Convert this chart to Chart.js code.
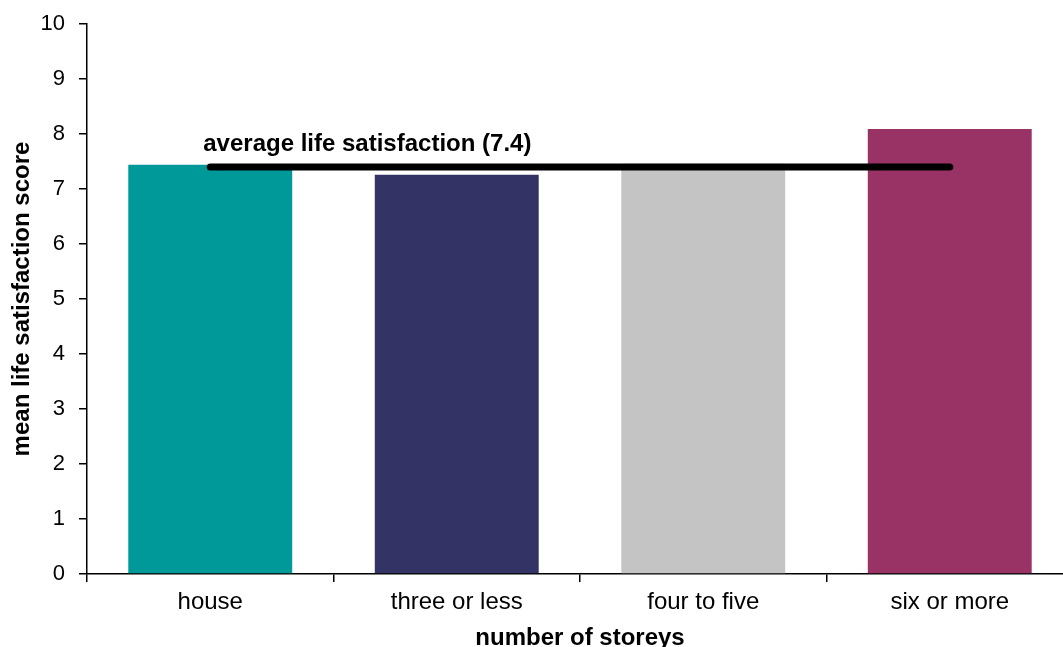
<!DOCTYPE html>
<html>
<head>
<meta charset="utf-8">
<script src="https://cdn.jsdelivr.net/npm/chart.js@4/dist/chart.umd.min.js"></script>
<style>
  html, body { margin: 0; padding: 0; background: #fff; overflow: hidden; }
  #wrap { width: 1063px; height: 647px; overflow: hidden; position: relative; }
  #box { position: absolute; left: 0; top: 0; width: 1080px; height: 660px; }
</style>
</head>
<body>
<div id="wrap"><div id="box"><canvas id="c" width="1080" height="660"></canvas></div></div>
<script>
// Mean life satisfaction by number of storeys in the building
const categories = ['house', 'three or less', 'four to five', 'six or more'];
const meanScores = [7.44, 7.26, 7.46, 8.09];
const barColors = ['#009999', '#333366', '#C4C4C4', '#993366'];
const averageScore = 7.4;
const averageLine = categories.map(() => averageScore);
const yTicks = [0, 1, 2, 3, 4, 5, 6, 7, 8, 9, 10];

const FONT = '"Liberation Sans", Arial, sans-serif';

// Caption for the average line, placed just above its left end
const avgLabel = {
  id: 'avgLabel',
  afterDatasetsDraw(chart) {
    const { ctx, scales: { x, y } } = chart;
    ctx.save();
    ctx.font = 'bold 24px ' + FONT;
    ctx.fillStyle = '#000';
    ctx.textAlign = 'left';
    ctx.textBaseline = 'middle';
    ctx.fillText('average life satisfaction (' + averageScore.toFixed(1) + ')',
      x.getPixelForValue(0) - 7, y.getPixelForValue(averageScore) - 23);
    ctx.restore();
  }
};

new Chart(document.getElementById('c'), {
  data: {
    labels: categories,
    datasets: [
      {
        type: 'line',
        data: averageLine,
        borderColor: '#000',
        borderWidth: 7,
        borderCapStyle: 'round',
        pointRadius: 0,
        order: 0
      },
      {
        type: 'bar',
        data: meanScores,
        backgroundColor: barColors,
        borderWidth: 0,
        barPercentage: 0.665,
        categoryPercentage: 1,
        order: 1
      }
    ]
  },
  options: {
    responsive: false,
    animation: false,
    layout: { padding: { left: 0, top: 24, right: 7, bottom: 0 } },
    plugins: { legend: { display: false }, tooltip: { enabled: false } },
    scales: {
      x: {
        offset: true,
        grid: {
          offset: true,
          drawOnChartArea: false,
          drawTicks: true,
          tickLength: 8,
          color: '#000',
          lineWidth: 1.5
        },
        border: { color: '#000', width: 1.5 },
        ticks: { color: '#000', font: { family: FONT, size: 24 }, padding: 6, maxRotation: 0 },
        title: {
          display: true,
          text: 'number of storeys',
          color: '#000',
          font: { family: FONT, size: 24, weight: 'bold' },
          padding: { top: 4, bottom: 7 }
        },
        afterFit(scale) { scale.height = 86; scale.paddingLeft = 0; scale.paddingRight = 0; }
      },
      y: {
        min: 0,
        max: 10,
        afterBuildTicks(scale) { scale.ticks = yTicks.map(v => ({ value: v })); },
        grid: {
          drawOnChartArea: false,
          drawTicks: true,
          tickLength: 8,
          color: '#000',
          lineWidth: 1.5
        },
        border: { color: '#000', width: 1.5 },
        ticks: { color: '#000', font: { family: FONT, size: 22 }, padding: 14 },
        title: {
          display: true,
          text: 'mean life satisfaction score',
          color: '#000',
          font: { family: FONT, size: 24, weight: 'bold' },
          padding: { top: 8, bottom: 4 }
        },
        afterFit(scale) { scale.width = 87; scale.paddingTop = 0; scale.paddingBottom = 0; }
      }
    }
  },
  plugins: [avgLabel]
});
</script>
</body>
</html>
